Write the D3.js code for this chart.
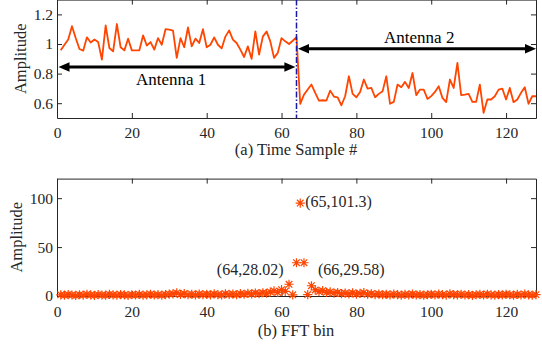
<!DOCTYPE html>
<html>
<head>
<meta charset="utf-8">
<script src="https://cdn.jsdelivr.net/npm/d3@7"></script>
<style>
  body { margin: 0; background: #fff; }
  svg { display: block; font-family: "Liberation Serif", "Times New Roman", serif; }
</style>
</head>
<body>
<svg id="chart" width="542" height="347"></svg>
<script>
// top panel: received amplitude per time sample (1..128)
var timeAmp = [
  0.957, 0.995, 1.03, 1.12, 1.04, 0.966, 0.955, 1.045, 1.01, 1.03,
  1.013, 0.895, 1.125, 0.973, 0.95, 1.135, 0.978, 0.957, 1.036, 0.957,
  0.957, 0.957, 1.058, 0.99, 1.013, 0.962, 1.04, 0.995, 1.10, 1.097,
  1.09, 0.906, 1.04, 0.978, 1.112, 0.984, 1.036, 1.007, 1.10, 0.978,
  0.995, 1.045, 0.995, 0.97, 1.05, 1.092, 1.03, 1.007, 0.962, 0.912,
  0.984, 0.90, 1.085, 0.928, 1.05, 1.085, 1.018, 0.906, 0.94, 1.04,
  1.018, 1.0, 1.022, 1.047, 0.596, 0.658, 0.692, 0.726, 0.67, 0.618,
  0.62, 0.618, 0.685, 0.645, 0.64, 0.586, 0.647, 0.782, 0.663, 0.64,
  0.676, 0.76, 0.699, 0.703, 0.64, 0.663, 0.68, 0.782, 0.596, 0.609,
  0.726, 0.708, 0.744, 0.703, 0.804, 0.654, 0.692, 0.692, 0.629, 0.648,
  0.676, 0.715, 0.636, 0.607, 0.76, 0.703, 0.872, 0.654, 0.658, 0.663,
  0.609, 0.609, 0.726, 0.535, 0.625, 0.625, 0.647, 0.692, 0.699, 0.625,
  0.703, 0.607, 0.625, 0.67, 0.708, 0.596, 0.647, 0.647
];

// bottom panel: FFT magnitude per bin (1..128)
var fftAmp = [
  1.2, 0.8, 1.5, 1.0, 0.6, 1.3, 0.9, 1.7, 1.1, 0.7,
  1.4, 1.0, 0.8, 1.6, 1.2, 0.9, 1.5, 1.1, 0.7, 1.3,
  1.0, 1.6, 0.9, 1.2, 1.8, 1.0, 1.4, 0.8, 1.5, 1.9,
  2.2, 3.1, 1.6, 2.5, 1.3, 1.8, 1.1, 2.0, 1.4, 1.7,
  1.2, 2.1, 1.5, 1.0, 2.3, 1.6, 2.0, 1.3, 2.4, 1.8,
  2.6, 2.1, 3.0, 2.4, 3.3, 2.8, 4.1, 5.2, 3.6, 6.5,
  4.8, 12.0, 1.2, 34.0, 95.0, 34.0, 1.5, 10.5, 6.2, 4.5,
  5.5, 3.8, 4.2, 3.0, 3.6, 2.5, 2.9, 2.2, 3.1, 2.0,
  2.7, 3.4, 1.8, 2.3, 1.5, 2.0, 1.3, 1.7, 1.1, 1.9,
  1.4, 0.9, 1.6, 1.2, 2.0, 1.0, 1.5, 0.8, 1.3, 1.7,
  1.1, 1.9, 1.4, 0.9, 2.2, 1.5, 1.2, 1.8, 1.0, 1.4,
  0.7, 1.3, 1.6, 1.0, 1.8, 1.2, 0.9, 1.5, 1.1, 1.7,
  1.3, 0.8, 1.6, 1.0, 1.9, 1.2, 0.9, 1.4
];

var xTicks = [0, 20, 40, 60, 80, 100, 120];
var yTicksTop = [0.6, 0.8, 1, 1.2];
var yTicksBottom = [0, 50, 100];
var switchSample = 64;

var peakNotes = [
  {bin: 65, text: "(65,101.3)", dx: 5, dy: 4, anchor: "start"},
  {bin: 64, text: "(64,28.02)", dx: -13, dy: 12, anchor: "end"},
  {bin: 66, text: "(66,29.58)", dx: 14, dy: 12, anchor: "start"}
];

var antennas = [
  {name: "Antenna 1", from: 0.4, to: 63.7, level: 0.845, textX: 30.5, textY: 0.723},
  {name: "Antenna 2", from: 64.4, to: 128, level: 0.968, textX: 96.8, textY: 1.009}
];

var ink = "#262626";
var orange = "#ff4500";

var svg = d3.select("#chart");

var x = d3.scaleLinear().domain([0, 128]).range([57, 536]);
var yTop = d3.scaleLinear().domain([0.5, 1.3]).range([118, -0.4]);
var yBot = d3.scaleLinear().domain([0, 120]).range([296, 178.6]);

function drawBox(yScale, yTicks, fmt, pad) {
  var y0 = yScale.range()[0], y1 = yScale.range()[1];
  var g = svg.append("g");

  g.append("g").attr("transform", "translate(0," + y0 + ")")
    .call(d3.axisBottom(x).tickValues(xTicks).tickSizeInner(-5).tickSizeOuter(0).tickPadding(pad));
  g.append("g").attr("transform", "translate(0," + y1 + ")")
    .call(d3.axisTop(x).tickValues(xTicks).tickSizeInner(-5).tickSizeOuter(0).tickFormat(""));
  g.append("g").attr("transform", "translate(" + x.range()[0] + ",0)")
    .call(d3.axisLeft(yScale).tickValues(yTicks).tickSizeInner(-5).tickSizeOuter(0).tickPadding(4).tickFormat(fmt));
  g.append("g").attr("transform", "translate(" + x.range()[1] + ",0)")
    .call(d3.axisRight(yScale).tickValues(yTicks).tickSizeInner(-5).tickSizeOuter(0).tickFormat(""));

  g.selectAll(".domain, .tick line").attr("stroke", ink).attr("stroke-width", 1);
  g.selectAll(".tick text").attr("fill", ink)
    .style("font-family", "Liberation Serif").style("font-size", "15.5px");
  return g;
}

// ---- top panel ----
drawBox(yTop, yTicksTop, d3.format(""), 9);

var line = d3.line()
  .x(function(d, i) { return x(i + 1); })
  .y(function(d) { return yTop(d); });

svg.append("path")
  .datum(timeAmp)
  .attr("d", line)
  .attr("fill", "none")
  .attr("stroke", orange)
  .attr("stroke-width", 1.8)
  .attr("stroke-linejoin", "round");

svg.append("line")
  .attr("x1", x(switchSample)).attr("x2", x(switchSample))
  .attr("y1", yTop.range()[1]).attr("y2", yTop.range()[0])
  .attr("stroke", "#1a1aa0")
  .attr("stroke-width", 1.5)
  .attr("stroke-dasharray", "6,2,1.5,2");

// double headed arrows
antennas.forEach(function(a) {
  var xa = x(a.from), xb = x(a.to), yy = yTop(a.level);
  var head = 11, half = 4.8;
  svg.append("line")
    .attr("x1", xa + head - 1).attr("x2", xb - head + 1)
    .attr("y1", yy).attr("y2", yy)
    .attr("stroke", "#000").attr("stroke-width", 3);
  svg.append("path")
    .attr("d", "M" + xa + "," + yy + "L" + (xa + head) + "," + (yy - half) + "L" + (xa + head) + "," + (yy + half) + "Z")
    .attr("fill", "#000");
  svg.append("path")
    .attr("d", "M" + xb + "," + yy + "L" + (xb - head) + "," + (yy - half) + "L" + (xb - head) + "," + (yy + half) + "Z")
    .attr("fill", "#000");
  svg.append("text")
    .attr("x", x(a.textX)).attr("y", yTop(a.textY))
    .attr("text-anchor", "middle")
    .style("font-size", "17px")
    .attr("fill", "#000")
    .text(a.name);
});

svg.append("text")
  .attr("transform", "translate(26," + yTop(0.9) + ") rotate(-90)")
  .attr("text-anchor", "middle")
  .style("font-size", "16.5px").attr("fill", ink)
  .text("Amplitude");

svg.append("text")
  .attr("x", 296).attr("y", 155)
  .attr("text-anchor", "middle")
  .style("font-size", "16.5px").attr("fill", ink)
  .text("(a) Time Sample #");

// ---- bottom panel ----
drawBox(yBot, yTicksBottom, d3.format("d"), 10);

var star = "M-4.6,0H4.6M0,-4.6V4.6M-3.3,-3.3L3.3,3.3M-3.3,3.3L3.3,-3.3";

svg.append("g").selectAll("path")
  .data(fftAmp)
  .enter().append("path")
  .attr("transform", function(d, i) { return "translate(" + x(i + 1) + "," + yBot(d) + ")"; })
  .attr("d", star)
  .attr("fill", "none")
  .attr("stroke", orange)
  .attr("stroke-width", 1.2);

peakNotes.forEach(function(p) {
  svg.append("text")
    .attr("x", x(p.bin) + p.dx)
    .attr("y", yBot(fftAmp[p.bin - 1]) + p.dy)
    .attr("text-anchor", p.anchor)
    .style("font-size", "16px").attr("fill", ink)
    .text(p.text);
});

svg.append("text")
  .attr("transform", "translate(22," + yBot(60) + ") rotate(-90)")
  .attr("text-anchor", "middle")
  .style("font-size", "16.5px").attr("fill", ink)
  .text("Amplitude");

svg.append("text")
  .attr("x", 296).attr("y", 336)
  .attr("text-anchor", "middle")
  .style("font-size", "16.5px").attr("fill", ink)
  .text("(b) FFT bin");
</script>
</body>
</html>
